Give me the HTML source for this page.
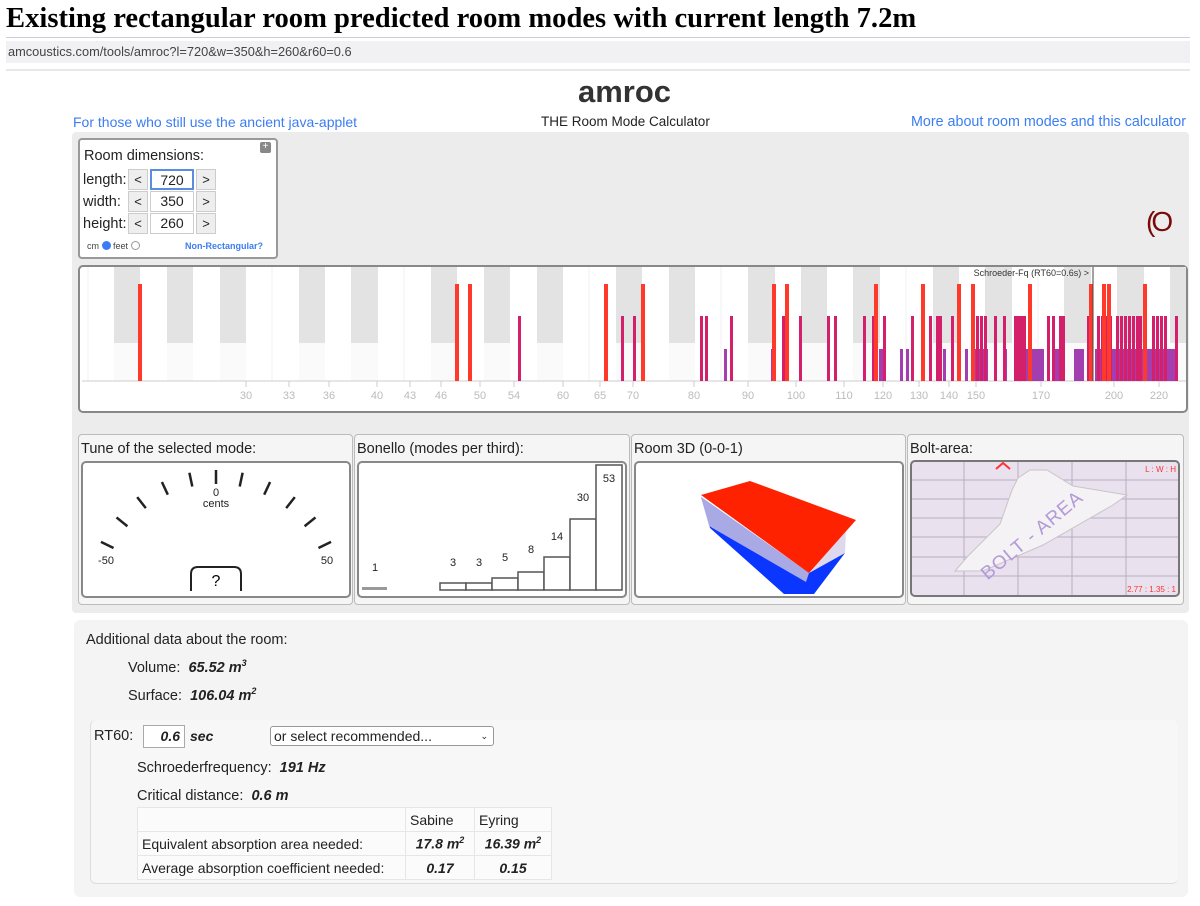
<!DOCTYPE html>
<html><head><meta charset="utf-8"><style>
*{margin:0;padding:0;box-sizing:border-box}
body{width:1200px;height:906px;background:#fff;position:relative;overflow:hidden;font-family:"Liberation Sans",Arial,sans-serif;color:#222}
.a{position:absolute}
.title{left:6px;top:3px;font-family:"Liberation Serif",serif;font-weight:bold;font-size:28.6px;color:#000;white-space:nowrap}
.link{color:#3b7df2;font-size:14px}
.panel{background:#f5f5f5;border:1px solid #bbb;border-radius:4px}
.inner{background:#fff;border:2px solid #888;border-radius:5px}
.pt{font-size:14.5px;color:#222}
.btn{position:absolute;width:20px;height:21px;background:#eee;border:1px solid #ccc;font-size:13px;text-align:center;line-height:19px}
.inp{position:absolute;width:44px;height:21px;background:#fff;border:1px solid #ccc;font-size:14px;text-align:center;line-height:19px}
.bi{font-weight:bold;font-style:italic}
td{border:1px solid #e6e6e6;font-size:14px;padding:0 4px;height:24px;white-space:nowrap}
</style></head><body>
<div class="a title">Existing rectangular room predicted room modes with current length 7.2m</div>
<div class="a" style="left:6px;top:37px;width:1184px;height:1px;background:#ccd"></div>
<div class="a" style="left:6px;top:41px;width:1184px;height:22px;background:#f1f1f3;font-size:12.8px;color:#444;line-height:22px;padding-left:2px">amcoustics.com/tools/amroc?l=720&amp;w=350&amp;h=260&amp;r60=0.6</div>
<div class="a" style="left:6px;top:69px;width:1184px;height:2px;background:#e8e8ea"></div>
<div class="a" style="left:578px;top:74px;font-size:31px;font-weight:bold;color:#333">amroc</div>
<div class="a link" style="left:73px;top:114px">For those who still use the ancient java-applet</div>
<div class="a" style="left:541px;top:114px;font-size:13.5px">THE Room Mode Calculator</div>
<div class="a link" style="left:911px;top:114px;font-size:14.3px">More about room modes and this calculator</div>
<div class="a" style="left:72px;top:132px;width:1117px;height:481px;background:#ececec;border-radius:4px"></div>
<div class="a" style="left:1146px;top:206px;font-size:28px;color:#7a0a0a;letter-spacing:-4px">(O</div>
<!-- room dims -->
<div class="a" style="left:78px;top:138px;width:200px;height:121px;background:#fff;border:2px solid #999;border-radius:4px">
 <div class="a" style="left:180px;top:2px;width:11px;height:11px;background:#888;border-radius:2px;color:#fff;font-size:10px;line-height:10px;text-align:center">+</div>
 <div class="a" style="left:4px;top:8px;font-size:14.5px">Room dimensions:</div>
 <div class="a" style="left:3px;top:32px;font-size:14.5px">length:</div>
 <div class="a" style="left:3px;top:54px;font-size:14.5px">width:</div>
 <div class="a" style="left:3px;top:76px;font-size:14.5px">height:</div>
 <div class="btn" style="left:48px;top:29px">&lt;</div><div class="inp" style="left:70px;top:29px;border:2px solid #5a8de0">720</div><div class="btn" style="left:116px;top:29px">&gt;</div>
 <div class="btn" style="left:48px;top:51px">&lt;</div><div class="inp" style="left:70px;top:51px">350</div><div class="btn" style="left:116px;top:51px">&gt;</div>
 <div class="btn" style="left:48px;top:73px">&lt;</div><div class="inp" style="left:70px;top:73px">260</div><div class="btn" style="left:116px;top:73px">&gt;</div>
 <div class="a" style="left:7px;top:101px;font-size:9px;color:#444">cm <span style="display:inline-block;width:9px;height:9px;border-radius:50%;background:#3b7df2;vertical-align:-1px"></span> feet <span style="display:inline-block;width:9px;height:9px;border-radius:50%;border:1px solid #999;vertical-align:-1px"></span></div>
 <div class="a" style="left:105px;top:101px;font-size:9px;color:#3b7df2;font-weight:bold">Non-Rectangular?</div>
</div>
<!-- mode chart -->
<svg class="a" style="left:78px;top:265px" width="1110" height="149" viewBox="78 265 1110 149">
<rect x="79" y="266" width="1108" height="146" rx="4" fill="#fff" stroke="#888" stroke-width="2"/>
<g fill="#e3e3e3">
<rect x="114" y="267" width="26" height="76"/><rect x="167" y="267" width="26" height="76"/><rect x="220" y="267" width="26" height="76"/><rect x="299" y="267" width="26" height="76"/><rect x="351" y="267" width="27" height="76"/><rect x="431" y="267" width="26" height="76"/><rect x="484" y="267" width="26" height="76"/><rect x="537" y="267" width="26" height="76"/><rect x="616" y="267" width="26" height="76"/><rect x="669" y="267" width="26" height="76"/><rect x="748" y="267" width="27" height="76"/><rect x="801" y="267" width="26" height="76"/><rect x="853" y="267" width="27" height="76"/><rect x="933" y="267" width="26" height="76"/><rect x="985" y="267" width="27" height="76"/><rect x="1064" y="267" width="27" height="76"/><rect x="1117" y="267" width="27" height="76"/><rect x="1170" y="267" width="16" height="76"/>
</g>
<g fill="#fafafa">
<rect x="114" y="343" width="26" height="38"/><rect x="167" y="343" width="26" height="38"/><rect x="220" y="343" width="26" height="38"/><rect x="299" y="343" width="26" height="38"/><rect x="351" y="343" width="27" height="38"/><rect x="431" y="343" width="26" height="38"/><rect x="484" y="343" width="26" height="38"/><rect x="537" y="343" width="26" height="38"/><rect x="616" y="343" width="26" height="38"/><rect x="669" y="343" width="26" height="38"/><rect x="748" y="343" width="27" height="38"/><rect x="801" y="343" width="26" height="38"/><rect x="853" y="343" width="27" height="38"/><rect x="933" y="343" width="26" height="38"/><rect x="985" y="343" width="27" height="38"/><rect x="1064" y="343" width="27" height="38"/><rect x="1117" y="343" width="27" height="38"/><rect x="1170" y="343" width="16" height="38"/>
</g>
<g stroke="#f0f0f0" stroke-width="1">
<line x1="88" y1="267" x2="88" y2="381"/><line x1="272" y1="267" x2="272" y2="381"/><line x1="404" y1="267" x2="404" y2="381"/><line x1="589" y1="267" x2="589" y2="381"/><line x1="721" y1="267" x2="721" y2="381"/><line x1="906" y1="267" x2="906" y2="381"/><line x1="1038" y1="267" x2="1038" y2="381"/>
</g>
<line x1="82" y1="381" x2="1186" y2="381" stroke="#ccc"/>
<g stroke="#ccc"><line x1="246" y1="381" x2="246" y2="387"/><line x1="289" y1="381" x2="289" y2="387"/><line x1="329" y1="381" x2="329" y2="387"/><line x1="377" y1="381" x2="377" y2="387"/><line x1="410" y1="381" x2="410" y2="387"/><line x1="441" y1="381" x2="441" y2="387"/><line x1="480" y1="381" x2="480" y2="387"/><line x1="514" y1="381" x2="514" y2="387"/><line x1="563" y1="381" x2="563" y2="387"/><line x1="600" y1="381" x2="600" y2="387"/><line x1="633" y1="381" x2="633" y2="387"/><line x1="694" y1="381" x2="694" y2="387"/><line x1="748" y1="381" x2="748" y2="387"/><line x1="796" y1="381" x2="796" y2="387"/><line x1="844" y1="381" x2="844" y2="387"/><line x1="883" y1="381" x2="883" y2="387"/><line x1="919" y1="381" x2="919" y2="387"/><line x1="949" y1="381" x2="949" y2="387"/><line x1="976" y1="381" x2="976" y2="387"/><line x1="1041" y1="381" x2="1041" y2="387"/><line x1="1114" y1="381" x2="1114" y2="387"/><line x1="1159" y1="381" x2="1159" y2="387"/></g>
<g font-size="11" fill="#bbb" text-anchor="middle" font-family="Liberation Sans,sans-serif">
<text x="246" y="399">30</text><text x="289" y="399">33</text><text x="329" y="399">36</text><text x="377" y="399">40</text><text x="410" y="399">43</text><text x="441" y="399">46</text><text x="480" y="399">50</text><text x="514" y="399">54</text><text x="563" y="399">60</text><text x="600" y="399">65</text><text x="633" y="399">70</text><text x="694" y="399">80</text><text x="748" y="399">90</text><text x="796" y="399">100</text><text x="844" y="399">110</text><text x="883" y="399">120</text><text x="919" y="399">130</text><text x="949" y="399">140</text><text x="976" y="399">150</text><text x="1041" y="399">170</text><text x="1114" y="399">200</text><text x="1159" y="399">220</text>
</g>
<g fill="#9a2aa8" opacity="0.9">
<rect x="724" y="349" width="3" height="32"/><rect x="771" y="349" width="3" height="32"/><rect x="879" y="349" width="5" height="32"/><rect x="900" y="349" width="3" height="32"/><rect x="906" y="349" width="3" height="32"/><rect x="943" y="349" width="3" height="32"/><rect x="957" y="349" width="3" height="32"/><rect x="965" y="349" width="3" height="32"/><rect x="975" y="349" width="13" height="32"/><rect x="1004" y="349" width="3" height="32"/><rect x="1023" y="349" width="21" height="32"/><rect x="1054" y="349" width="10" height="32"/><rect x="1074" y="349" width="10" height="32"/><rect x="1089" y="349" width="3" height="32"/><rect x="1095" y="349" width="8" height="32"/><rect x="1108" y="349" width="69" height="32"/>
</g>
<g fill="#d4206a">
<rect x="518" y="316" width="3" height="65"/><rect x="621" y="316" width="3" height="65"/><rect x="633" y="316" width="3" height="65"/><rect x="700" y="316" width="3" height="65"/><rect x="705" y="316" width="3" height="65"/><rect x="730" y="316" width="3" height="65"/><rect x="782" y="316" width="3" height="65"/><rect x="799" y="316" width="3" height="65"/><rect x="827" y="316" width="3" height="65"/><rect x="834" y="316" width="3" height="65"/><rect x="863" y="316" width="3" height="65"/><rect x="872" y="316" width="3" height="65"/><rect x="883" y="316" width="3" height="65"/><rect x="911" y="316" width="3" height="65"/><rect x="929" y="316" width="3" height="65"/><rect x="936" y="316" width="3" height="65"/><rect x="939" y="316" width="3" height="65"/><rect x="951" y="316" width="3" height="65"/><rect x="976" y="316" width="3" height="65"/><rect x="980" y="316" width="3" height="65"/><rect x="984" y="316" width="3" height="65"/><rect x="994" y="316" width="3" height="65"/><rect x="1003" y="316" width="3" height="65"/><rect x="1014" y="316" width="3" height="65"/><rect x="1017" y="316" width="3" height="65"/><rect x="1020" y="316" width="3" height="65"/><rect x="1023" y="316" width="3" height="65"/><rect x="1047" y="316" width="3" height="65"/><rect x="1052" y="316" width="3" height="65"/><rect x="1059" y="316" width="3" height="65"/><rect x="1062" y="316" width="3" height="65"/><rect x="1087" y="316" width="3" height="65"/><rect x="1097" y="316" width="3" height="65"/><rect x="1101" y="316" width="3" height="65"/><rect x="1106" y="316" width="3" height="65"/><rect x="1109" y="316" width="3" height="65"/><rect x="1116" y="316" width="3" height="65"/><rect x="1120" y="316" width="3" height="65"/><rect x="1124" y="316" width="3" height="65"/><rect x="1128" y="316" width="3" height="65"/><rect x="1132" y="316" width="3" height="65"/><rect x="1136" y="316" width="3" height="65"/><rect x="1139" y="316" width="3" height="65"/><rect x="1152" y="316" width="3" height="65"/><rect x="1156" y="316" width="3" height="65"/><rect x="1160" y="316" width="3" height="65"/><rect x="1164" y="316" width="3" height="65"/><rect x="1175" y="316" width="3" height="65"/>
</g>
<g fill="#ff3a2a">
<rect x="138" y="284" width="4" height="97"/><rect x="455" y="284" width="4" height="97"/><rect x="468" y="284" width="4" height="97"/><rect x="604" y="284" width="4" height="97"/><rect x="641" y="284" width="4" height="97"/><rect x="772" y="284" width="4" height="97"/><rect x="785" y="284" width="4" height="97"/><rect x="874" y="284" width="4" height="97"/><rect x="921" y="284" width="4" height="97"/><rect x="957" y="284" width="4" height="97"/><rect x="971" y="284" width="4" height="97"/><rect x="1028" y="284" width="4" height="97"/><rect x="1089" y="284" width="4" height="97"/><rect x="1102" y="284" width="4" height="97"/><rect x="1107" y="284" width="4" height="97"/><rect x="1143" y="284" width="4" height="97"/>
</g>
<line x1="1093" y1="267" x2="1093" y2="381" stroke="#444" stroke-width="1"/>
<text x="1089" y="276" font-size="9" fill="#333" text-anchor="end" font-family="Liberation Sans,sans-serif">Schroeder-Fq (RT60=0.6s) &gt;</text>
</svg>
<!-- panels -->
<div class="a panel" style="left:78px;top:434px;width:275px;height:171px"></div>
<div class="a panel" style="left:354px;top:434px;width:276px;height:171px"></div>
<div class="a panel" style="left:631px;top:434px;width:275px;height:171px"></div>
<div class="a panel" style="left:907px;top:434px;width:277px;height:171px"></div>
<div class="a pt" style="left:81px;top:441px">Tune of the selected mode:</div>
<div class="a pt" style="left:357px;top:441px">Bonello (modes per third):</div>
<div class="a pt" style="left:634px;top:441px">Room 3D (0-0-1)</div>
<div class="a pt" style="left:910px;top:441px">Bolt-area:</div>
<div class="a inner" style="left:81px;top:461px;width:270px;height:137px"></div>
<div class="a inner" style="left:357px;top:461px;width:270px;height:137px"></div>
<div class="a inner" style="left:634px;top:461px;width:270px;height:137px"></div>
<svg class="a" style="left:0;top:0" width="1200" height="906" viewBox="0 0 1200 906">
<g stroke="#222" stroke-width="2.5">
<g transform="translate(216,598)">
<line x1="0" y1="-128" x2="0" y2="-114" transform="rotate(-64)"/><line x1="0" y1="-128" x2="0" y2="-114" transform="rotate(-51)"/><line x1="0" y1="-128" x2="0" y2="-114" transform="rotate(-38)"/><line x1="0" y1="-128" x2="0" y2="-114" transform="rotate(-25)"/><line x1="0" y1="-128" x2="0" y2="-114" transform="rotate(-12)"/><line x1="0" y1="-128" x2="0" y2="-114"/><line x1="0" y1="-128" x2="0" y2="-114" transform="rotate(12)"/><line x1="0" y1="-128" x2="0" y2="-114" transform="rotate(25)"/><line x1="0" y1="-128" x2="0" y2="-114" transform="rotate(38)"/><line x1="0" y1="-128" x2="0" y2="-114" transform="rotate(51)"/><line x1="0" y1="-128" x2="0" y2="-114" transform="rotate(64)"/>
</g></g>
<g font-family="Liberation Sans,sans-serif" font-size="11" fill="#222" text-anchor="middle">
<text x="216" y="496">0</text><text x="216" y="507">cents</text><text x="106" y="564">-50</text><text x="327" y="564">50</text>
</g>
<path d="M191 591 V574 Q191 567 198 567 H234 Q241 567 241 574 V591" fill="none" stroke="#222" stroke-width="2"/>
<text x="216" y="586" font-size="16" text-anchor="middle" font-family="Liberation Sans,sans-serif">?</text>
<!-- bonello -->
<rect x="362" y="587" width="25" height="3" fill="#999"/>
<g fill="#fff" stroke="#555" stroke-width="1.5">
<rect x="440" y="583" width="26" height="7"/><rect x="466" y="583" width="26" height="7"/><rect x="492" y="578" width="26" height="12"/><rect x="518" y="572" width="26" height="18"/><rect x="544" y="557" width="26" height="33"/><rect x="570" y="519" width="26" height="71"/><rect x="596" y="465" width="26" height="125"/>
</g>
<g font-family="Liberation Sans,sans-serif" font-size="11" fill="#222" text-anchor="middle">
<text x="375" y="571">1</text><text x="453" y="566">3</text><text x="479" y="566">3</text><text x="505" y="561">5</text><text x="531" y="553">8</text><text x="557" y="540">14</text><text x="583" y="501">30</text><text x="609" y="482">53</text>
</g>
<!-- 3D room -->
<polygon points="701,497 710,528 784,594 814,594 845,553 809,573" fill="#0a36ff"/>
<polygon points="701,497 809,573 806,582 709,526" fill="#c6bee0" opacity="0.85"/>
<polygon points="809,573 845,553 846,530 856,520" fill="#c6bee0" opacity="0.6"/>
<polygon points="701,495 750,481 856,520 809,573" fill="#ff2200"/>
<!-- bolt -->
<rect x="911" y="461" width="268" height="135" rx="4" fill="#e9e1ee" stroke="#777" stroke-width="2"/>
<g stroke="#b9aec0" stroke-width="1">
<line x1="964" y1="462" x2="964" y2="595"/><line x1="1018" y1="462" x2="1018" y2="595"/><line x1="1072" y1="462" x2="1072" y2="595"/><line x1="1126" y1="462" x2="1126" y2="595"/>
<line x1="912" y1="480" x2="1178" y2="480"/><line x1="912" y1="499" x2="1178" y2="499"/><line x1="912" y1="518" x2="1178" y2="518"/><line x1="912" y1="537" x2="1178" y2="537"/><line x1="912" y1="557" x2="1178" y2="557"/><line x1="912" y1="576" x2="1178" y2="576"/>
</g>
<path d="M1018,478 L1030,470 L1047,470 L1073,486 L1127,495 L1113,505 L1043,545 L983,571 L955,571 L968,556 L1000,524 L1012,490 Z" fill="#f4f2f4" stroke="#c8c4c8"/>
<text x="1036" y="540" font-family="Liberation Sans,sans-serif" font-size="19" fill="#b39ad8" text-anchor="middle" transform="rotate(-40 1036 540)" letter-spacing="1">BOLT - AREA</text>
<path d="M996 469 L1003 463 L1010 469" fill="none" stroke="#f33" stroke-width="2"/>
<text x="1176" y="472" font-family="Liberation Sans,sans-serif" font-size="8" fill="#f33" text-anchor="end">L : W : H</text>
<text x="1176" y="592" font-family="Liberation Sans,sans-serif" font-size="8" fill="#f33" text-anchor="end">2.77 : 1.35 : 1</text>
</svg>
<!-- bottom -->
<div class="a" style="left:74px;top:620px;width:1114px;height:277px;background:#f4f4f4;border-radius:6px"></div>
<div class="a" style="left:86px;top:632px;font-size:14.5px">Additional data about the room:</div>
<div class="a" style="left:128px;top:658px;font-size:14.5px">Volume: &nbsp;<span class="bi">65.52 m<sup style="font-size:9px">3</sup></span></div>
<div class="a" style="left:128px;top:686px;font-size:14.5px">Surface: &nbsp;<span class="bi">106.04 m<sup style="font-size:9px">2</sup></span></div>
<div class="a" style="left:90px;top:720px;width:1088px;height:164px;border-left:1px solid #ddd;border-bottom:1px solid #ddd;border-radius:6px;background:#f7f7f7"></div>
<div class="a" style="left:94px;top:728px;font-size:14.5px">RT60:</div>
<div class="a" style="left:143px;top:725px;width:42px;height:23px;background:#fff;border:1px solid #aaa;font-size:14px;text-align:right;padding-right:4px;line-height:21px" ><span class="bi">0.6</span></div>
<div class="a bi" style="left:190px;top:728px;font-size:14px">sec</div>
<div class="a" style="left:270px;top:726px;width:224px;height:20px;background:#fff;border:1px solid #999;border-radius:3px;font-size:14px;padding-left:3px;line-height:18px">or select recommended...<span style="position:absolute;right:5px;font-size:9px">&#8964;</span></div>
<div class="a" style="left:137px;top:760px;font-size:14.5px">Schroederfrequency: &nbsp;<span class="bi">191 Hz</span></div>
<div class="a" style="left:137px;top:788px;font-size:14.5px">Critical distance: &nbsp;<span class="bi">0.6 m</span></div>
<table class="a" style="left:137px;top:807px;border-collapse:collapse;background:#fbfbfb;table-layout:fixed;width:414px">
<colgroup><col style="width:268px"><col style="width:69px"><col style="width:77px"></colgroup>
<tr><td></td><td>Sabine</td><td>Eyring</td></tr>
<tr><td>Equivalent absorption area needed:</td><td class="bi" style="text-align:center">17.8 m<sup style="font-size:9px">2</sup></td><td class="bi" style="text-align:center">16.39 m<sup style="font-size:9px">2</sup></td></tr>
<tr><td>Average absorption coefficient needed:</td><td class="bi" style="text-align:center">0.17</td><td class="bi" style="text-align:center">0.15</td></tr>
</table>
</body></html>
